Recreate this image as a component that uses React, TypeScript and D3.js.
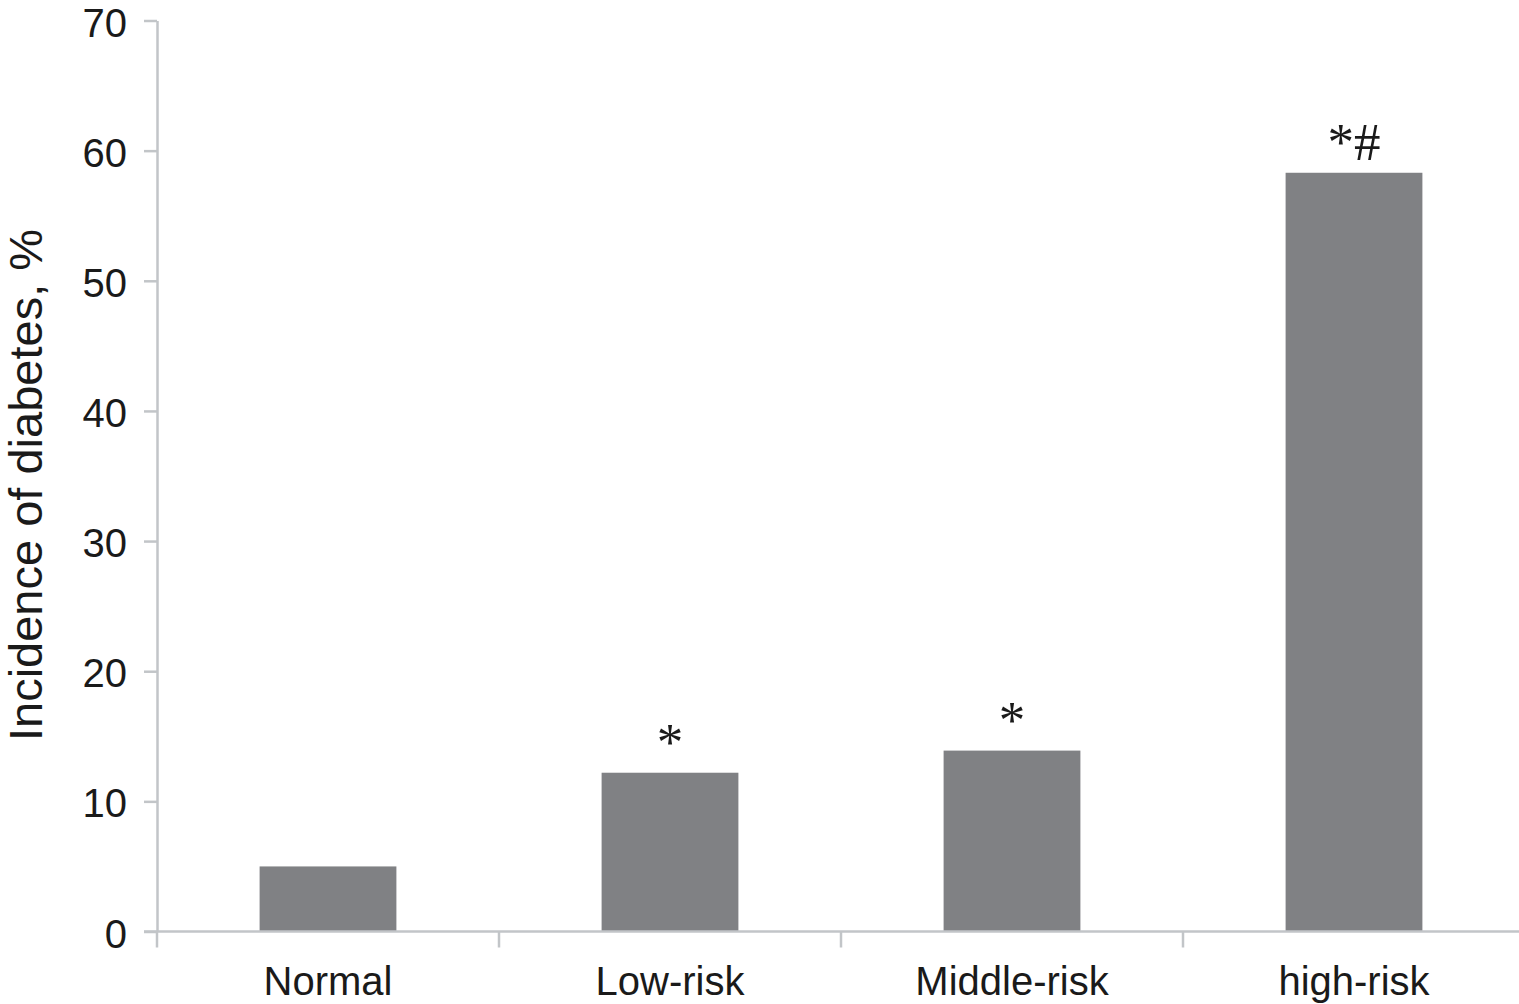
import React, { useRef, useEffect } from "react";
import * as d3 from "d3";

const categories = ["Normal", "Low-risk", "Middle-risk", "high-risk"];
const incidence = [5.0, 12.2, 13.9, 58.3];
const marks = ["", "*", "*", "*#"];
const yTicks = [0, 10, 20, 30, 40, 50, 60, 70];

const W = 1519;
const H = 1004;

const App: React.FC = () => {
  const ref = useRef<SVGSVGElement>(null);

  useEffect(() => {
    if (!ref.current) return;
    const svg = d3.select(ref.current);
    svg.selectAll("*").remove();

    const axisColor = "#c2c5c8";
    const sans = "'Liberation Sans', Arial, Helvetica, sans-serif";

    const y = d3.scaleLinear().domain([0, 70]).range([931.5, 20.5]);
    const x = d3
      .scaleBand<string>()
      .domain(categories)
      .range([157, 1525])
      .paddingInner(0.6)
      .paddingOuter(0.3);
    const step = x.step();

    // bars
    svg
      .append("g")
      .selectAll("rect")
      .data(categories)
      .enter()
      .append("rect")
      .attr("x", (d) => x(d) || 0)
      .attr("width", x.bandwidth())
      .attr("y", (_, i) => y(incidence[i]))
      .attr("height", (_, i) => y(0) - y(incidence[i]))
      .attr("fill", "#808184");

    // significance marks
    svg
      .append("g")
      .selectAll("text")
      .data(categories)
      .enter()
      .append("text")
      .attr("x", (d) => (x(d) || 0) + x.bandwidth() / 2)
      .attr("y", (_, i) => y(incidence[i]) - 13)
      .attr("text-anchor", "middle")
      .style("font-family", "'Liberation Serif', 'Times New Roman', serif")
      .style("font-size", "53px")
      .attr("fill", "#1a1a1a")
      .text((_, i) => marks[i]);

    // y axis
    const yAxis = svg
      .append("g")
      .attr("transform", "translate(157,0)")
      .call(d3.axisLeft(y).tickValues(yTicks).tickSize(13).tickPadding(17).tickSizeOuter(0));
    yAxis.select(".domain").attr("stroke", axisColor).attr("stroke-width", 2.5);
    yAxis.selectAll(".tick line").attr("stroke", axisColor).attr("stroke-width", 2.5);
    yAxis
      .selectAll(".tick text")
      .attr("dy", "0.39em")
      .attr("fill", "#1a1a1a")
      .style("font-family", sans)
      .style("font-size", "40px");

    // x axis
    const xg = svg.append("g");
    xg.append("line")
      .attr("x1", 144)
      .attr("x2", W)
      .attr("y1", y(0))
      .attr("y2", y(0))
      .attr("stroke", axisColor)
      .attr("stroke-width", 2.5);
    const bounds = [...categories.map((c) => (x(c) || 0) - step * 0.3), 157 + step * 4];
    xg.selectAll("line.tk")
      .data(bounds)
      .enter()
      .append("line")
      .attr("class", "tk")
      .attr("x1", (d) => d)
      .attr("x2", (d) => d)
      .attr("y1", y(0))
      .attr("y2", y(0) + 16)
      .attr("stroke", axisColor)
      .attr("stroke-width", 2.5);
    xg.selectAll("text")
      .data(categories)
      .enter()
      .append("text")
      .attr("x", (d) => (x(d) || 0) + x.bandwidth() / 2)
      .attr("y", 995)
      .attr("text-anchor", "middle")
      .attr("fill", "#1a1a1a")
      .style("font-family", sans)
      .style("font-size", "40px")
      .text((d) => d);

    // y title
    svg
      .append("text")
      .attr("transform", "translate(42,485) rotate(-90)")
      .attr("text-anchor", "middle")
      .attr("fill", "#1a1a1a")
      .style("font-family", sans)
      .style("font-size", "47px")
      .text("Incidence of diabetes, %");
  }, []);

  return (
    <div style={{ position: "absolute", left: 0, top: 0, width: W, height: H, background: "#fff" }}>
      <svg ref={ref} width={W} height={H} style={{ display: "block" }}></svg>
    </div>
  );
};

export default App;
